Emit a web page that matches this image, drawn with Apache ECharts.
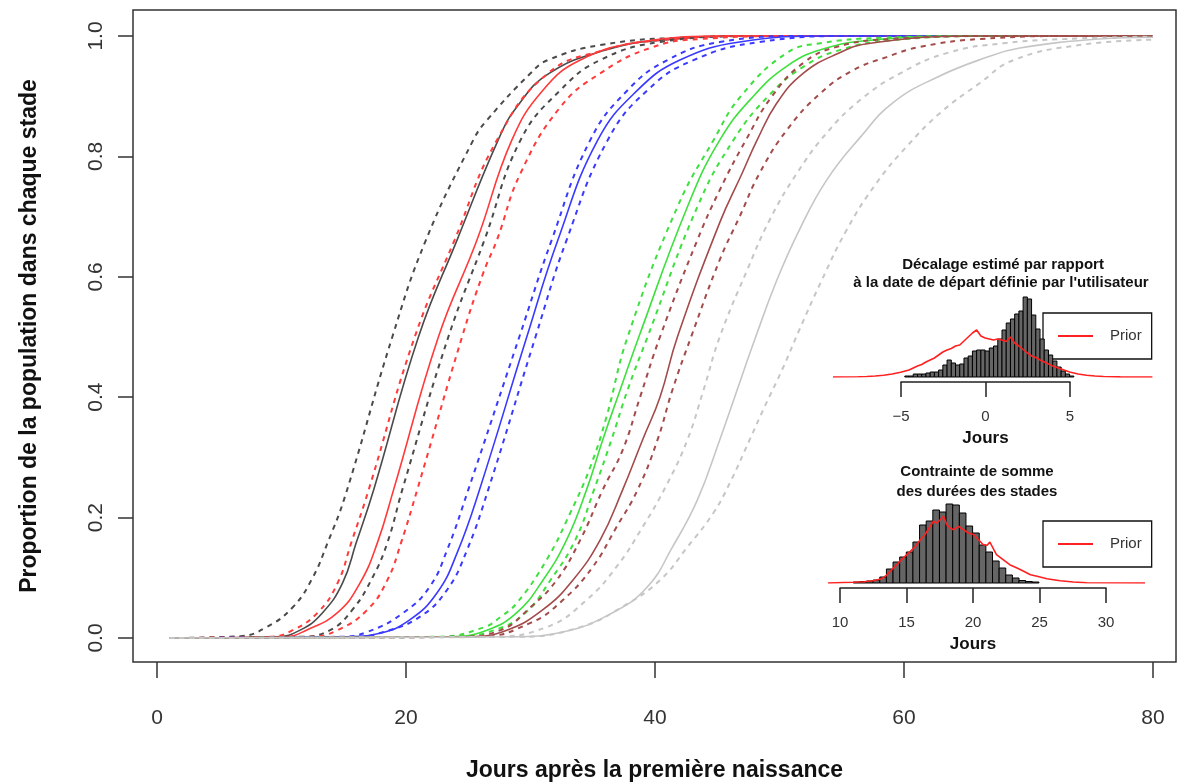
<!DOCTYPE html>
<html><head><meta charset="utf-8">
<script src="https://cdn.jsdelivr.net/npm/echarts@6/dist/echarts.min.js"></script>
<style>html,body{margin:0;padding:0;background:#fff}#c{width:1191px;height:783px}</style>
</head><body><div id="c"></div>
<script>
// ---- main chart data: [day, proportion] ----
const stage1Low  = [[1,0],[6.7,0.003],[8.8,0.018],[10.9,0.051],[12.5,0.10],[13.7,0.158],[15.1,0.235],[18.9,0.50],[21.6,0.661],[25.4,0.827],[26.5,0.86],[30.0,0.938],[31.4,0.96],[35.6,0.985],[42.0,0.997],[50,1],[80,1]];
const stage1Med  = [[1,0],[9.6,0.002],[11.5,0.013],[13.3,0.042],[14.9,0.091],[16.0,0.158],[17.4,0.246],[21.0,0.5],[24.1,0.661],[27.4,0.827],[28.9,0.882],[31.5,0.938],[36.1,0.977],[40.4,0.993],[48,1],[80,1]];
const stage1High = [[1,0],[11.5,0.002],[13.9,0.013],[15.7,0.047],[17.3,0.10],[18.5,0.158],[19.7,0.246],[23.4,0.5],[26.3,0.661],[29.2,0.827],[32.4,0.91],[35.6,0.96],[40.4,0.99],[48,1],[80,1]];
const stage2Low  = [[1,0],[9.1,0.002],[10.9,0.013],[12.9,0.042],[14.5,0.091],[15.6,0.158],[17.0,0.246],[20.7,0.5],[23.9,0.661],[27.3,0.827],[31.4,0.938],[36.0,0.977],[40.4,0.993],[48,1],[80,1]];
const stage2Med  = [[1,0],[10.3,0.002],[12.0,0.013],[14.5,0.042],[16.3,0.091],[17.7,0.158],[19.0,0.246],[22.6,0.5],[25.7,0.661],[28.5,0.827],[31.0,0.91],[34.0,0.96],[38.8,0.99],[46,1],[80,1]];
const stage2High = [[1,0],[12.3,0.002],[14.5,0.013],[16.9,0.047],[18.5,0.096],[19.6,0.158],[20.9,0.246],[24.5,0.5],[26.2,0.606],[27.3,0.661],[29.2,0.772],[32.4,0.882],[35.6,0.938],[39.6,0.98],[43.6,0.995],[52,1],[80,1]];
const stage3Low  = [[1,0],[14.7,0.002],[16.9,0.01],[19.8,0.042],[21.9,0.085],[23.3,0.146],[25.0,0.246],[29.1,0.5],[31.7,0.661],[34.8,0.827],[37.8,0.91],[41.0,0.96],[45.2,0.99],[52,1],[80,1]];
const stage3Med  = [[1,0],[15.1,0.002],[17.9,0.008],[20.3,0.03],[22.5,0.075],[24.1,0.141],[25.9,0.246],[29.7,0.5],[32.2,0.661],[35.4,0.827],[38.6,0.91],[42.0,0.96],[46.8,0.99],[54,1],[80,1]];
const stage3High = [[1,0],[15.9,0.002],[18.2,0.01],[21.1,0.035],[23.3,0.08],[24.9,0.146],[26.6,0.246],[30.4,0.5],[32.9,0.661],[36.2,0.827],[39.4,0.91],[43.1,0.96],[48.4,0.99],[56,1],[80,1]];
const stage4Low  = [[1,0],[22.7,0.002],[26.3,0.018],[27.6,0.035],[28.9,0.058],[31.3,0.13],[33.2,0.208],[34.8,0.284],[36.1,0.367],[37.8,0.5],[41.8,0.716],[44.7,0.827],[46.9,0.9],[50.6,0.972],[53.3,0.988],[58.1,0.997],[66,1],[80,1]];
const stage4Med  = [[1,0],[23.5,0.002],[26.5,0.013],[28.9,0.042],[31.0,0.096],[32.9,0.163],[34.5,0.246],[35.8,0.329],[37.2,0.412],[38.7,0.5],[42.6,0.716],[45.2,0.827],[47.9,0.9],[50.6,0.95],[53.3,0.977],[57.3,0.993],[66,1],[80,1]];
const stage4High = [[1,0],[23.9,0.002],[27.1,0.013],[29.6,0.042],[31.6,0.096],[33.6,0.163],[35.1,0.246],[36.5,0.329],[37.8,0.412],[39.4,0.5],[43.4,0.716],[46.3,0.827],[49.1,0.9],[52.0,0.95],[54.9,0.977],[58.9,0.993],[68,1],[80,1]];
const stage5Low  = [[1,0],[24.3,0.002],[27.6,0.013],[30.0,0.051],[32.1,0.096],[34.0,0.163],[35.8,0.246],[37.4,0.312],[38.8,0.4],[40.4,0.5],[43.4,0.661],[45.2,0.744],[47.3,0.827],[49.4,0.9],[51.9,0.955],[54.6,0.982],[58.9,0.995],[68,1],[80,1]];
const stage5Med  = [[1,0],[25.1,0.002],[28.1,0.013],[31.0,0.047],[33.4,0.096],[35.6,0.163],[37.4,0.246],[39.0,0.329],[40.4,0.4],[41.8,0.5],[45.2,0.69],[47.0,0.772],[48.2,0.827],[49.8,0.889],[51.9,0.938],[54.6,0.97],[57.3,0.988],[66,1],[80,1]];
const stage5High = [[1,0],[25.9,0.002],[30.0,0.025],[32.6,0.063],[35.0,0.118],[36.9,0.184],[38.6,0.246],[40.2,0.329],[41.4,0.412],[42.9,0.5],[45.2,0.628],[46.8,0.7],[48.4,0.772],[50.6,0.844],[53.3,0.905],[55.9,0.943],[58.6,0.965],[61.3,0.982],[66.1,0.995],[74,1],[80,1]];
const stage6Low  = [[1,0],[26.7,0.002],[31.3,0.018],[34.5,0.063],[36.9,0.118],[39.0,0.184],[41.0,0.257],[42.6,0.329],[43.9,0.412],[45.2,0.5],[47.4,0.611],[49.2,0.694],[51.4,0.772],[53.8,0.839],[56.5,0.894],[59.7,0.938],[63.5,0.972],[68.0,0.988],[74.1,0.996],[80,0.999]];
const stage6Med  = [[1,0],[28.4,0.002],[32.6,0.01],[36.6,0.042],[39.4,0.085],[41.4,0.151],[43.4,0.229],[45.2,0.329],[46.8,0.424],[48.0,0.495],[49.8,0.595],[51.6,0.678],[53.8,0.761],[56.5,0.832],[59.1,0.889],[62.7,0.932],[66.7,0.965],[69.3,0.98],[75.7,0.995],[80,0.998]];
const stage6High = [[1,0],[29.2,0.002],[34.0,0.018],[37.4,0.052],[40.4,0.096],[42.6,0.151],[44.7,0.208],[46.0,0.257],[47.6,0.329],[48.8,0.384],[50.2,0.445],[51.6,0.512],[53.3,0.59],[55.4,0.678],[57.8,0.756],[60.2,0.816],[62.9,0.872],[66.1,0.922],[68.8,0.96],[74.1,0.985],[80,0.994]];

const xTicks = [0, 20, 40, 60, 80];
const yTicks = [0, 0.2, 0.4, 0.6, 0.8, 1.0];

// ---- inset 1: offset histogram (Jours) ----
const offsetBinWidth = 0.25;
const offsetBinCenters = [-4.625,-4.375,-4.125,-3.875,-3.625,-3.375,-3.125,-2.875,-2.625,-2.375,-2.125,-1.875,-1.625,-1.375,-1.125,-0.875,-0.625,-0.375,-0.125,0.125,0.375,0.625,0.875,1.125,1.375,1.625,1.875,2.125,2.375,2.625,2.875,3.125,3.375,3.625,3.875,4.125,4.375,4.625,4.875,5.125];
const offsetCounts = [1,1,3,3,3,4,5,5,7,12,17,14,12,13,19,21,26,27,27,26,29,31,38,47,54,58,63,66,80,78,62,48,38,27,22,16,10,6,3,1];
const offsetPriorX = [-9,-7.5,-7,-6.5,-6,-5.5,-5,-4.5,-4,-3.75,-3.5,-3.25,-3,-2.75,-2.5,-2.25,-2,-1.75,-1.5,-1.25,-1,-0.75,-0.5,-0.25,0,0.25,0.5,0.75,1,1.25,1.5,1.75,2,2.25,2.5,2.75,3,3.25,3.5,3.75,4,4.5,5,5.5,6,6.5,7,8,9.9];
const offsetPriorY = [0,0.2,0.5,1,1.8,3,4.8,7,11,12.5,15,17,19,22,25,27,28.5,31,32,36,40,44,47,41,39,38,37,38,37,35.5,40,34,31,27.5,24,21,19.5,17,15,13,11,8,5,3,1.7,1,0.5,0.1,0];
const offsetTicks = [-5, 0, 5];

// ---- inset 2: sum of stage durations histogram (Jours) ----
const sumBinWidth = 0.5;
const sumBinCenters = [11.25,11.75,12.25,12.75,13.25,13.75,14.25,14.75,15.25,15.75,16.25,16.75,17.25,17.75,18.25,18.75,19.25,19.75,20.25,20.75,21.25,21.75,22.25,22.75,23.25,23.75,24.25,24.75];
const sumCounts = [1,1.5,2,3,6,14,21,26,31,41,58,62,73,71,79,78,70,57,50,38,31,22,15,8,5,2.5,1.5,1];
const sumPriorX = [9.1,11.0,11.8,12.5,13.15,13.5,13.9,14.3,14.5,14.9,15.3,15.7,16.05,16.4,16.8,17.05,17.3,17.55,17.8,18.05,18.3,18.56,18.94,19.3,19.7,20.1,20.45,20.8,21.1,21.3,21.6,21.8,22.3,22.8,23.35,23.85,24.36,24.86,25.6,26.6,27.6,28.6,33.0];
const sumPriorY = [0,0.7,1.3,2.3,4.3,7.7,13.3,18.3,21.7,26.7,31.7,36.7,43.3,48.3,56.7,61.7,60,63.3,66.7,58.3,55,53.3,56.7,53.3,50,48.3,43.3,38.3,37.7,41,33.3,28.3,23.3,18.3,15,11.7,8.3,6.7,4.3,2.3,1,0.3,0];
const sumTicks = [10, 15, 20, 25, 30];

const FONT = '"Liberation Sans", Arial, Helvetica, sans-serif';
const PRIOR_RED = '#ff2020';

const curveStyle = [
  {data: [stage1Low, stage1Med, stage1High], color: '#4a4a4a'},
  {data: [stage2Low, stage2Med, stage2High], color: '#ff3a3a'},
  {data: [stage3Low, stage3Med, stage3High], color: '#3a3aff'},
  {data: [stage4Low, stage4Med, stage4High], color: '#3ee03e'},
  {data: [stage5Low, stage5Med, stage5High], color: '#a34a4a'},
  {data: [stage6Low, stage6Med, stage6High], color: '#c6c6c6'}
];

const series = [];
curveStyle.forEach((s, i) => {
  s.data.forEach((d, j) => {
    const dashed = j !== 1;
    series.push({
      type: 'line', xAxisIndex: 0, yAxisIndex: 0, data: d,
      showSymbol: false, symbol: 'none', smooth: 0.45,
      lineStyle: {color: s.color, width: dashed ? 2 : 1.6, type: dashed ? [5, 5] : 'solid'},
      silent: true, z: 2 + i
    });
  });
});

function histSeries(centers, counts, w, xi, yi) {
  return {
    type: 'custom', xAxisIndex: xi, yAxisIndex: yi, z: 20, silent: true,
    data: centers.map((c, k) => [c, counts[k]]),
    renderItem: function (params, api) {
      const c = api.value(0), h = api.value(1);
      const p0 = api.coord([c - w / 2, 0]);
      const p1 = api.coord([c + w / 2, h]);
      return {type: 'rect', shape: {x: p0[0], y: p1[1], width: p1[0] - p0[0], height: p0[1] - p1[1]},
        style: {fill: '#656565', stroke: '#000', lineWidth: 1}};
    }
  };
}
const priorSeries = (xs, ys, xi, yi) => ({
  type: 'line', name: 'Prior', xAxisIndex: xi, yAxisIndex: yi, z: 30,
  data: xs.map((x, k) => [x, ys[k]]),
  showSymbol: false, symbol: 'none', itemStyle: {color: PRIOR_RED},
  lineStyle: {color: PRIOR_RED, width: 1.6}, silent: true
});
series.push(histSeries(offsetBinCenters, offsetCounts, offsetBinWidth, 1, 1));
series.push(priorSeries(offsetPriorX, offsetPriorY, 1, 1));
series.push(histSeries(sumBinCenters, sumCounts, sumBinWidth, 3, 3));
series.push(priorSeries(sumPriorX, sumPriorY, 3, 3));

const hidden = {show: false, splitLine: {show: false}};

const insetAxis = (gi, min, max, ticks, gap) => ({
  type: 'value', gridIndex: gi, min: min, max: max, interval: 5,
  axisLine: {show: true, onZero: false, lineStyle: {color: '#222', width: 1.5}},
  axisTick: {show: true, length: 15, lineStyle: {color: '#222', width: 1.5}},
  axisLabel: {show: true, fontSize: 15, color: '#333', fontFamily: FONT, margin: 27,
    formatter: v => (v < 0 ? '\u2212' + Math.abs(v) : String(v))},
  splitLine: {show: false},
  name: 'Jours', nameLocation: 'middle', nameGap: gap,
  nameTextStyle: {fontSize: 17, fontWeight: 'bold', color: '#111', fontFamily: FONT}
});

const legendBox = (top) => ({
  data: ['Prior'], left: 1043, top: top, icon: 'rect', itemWidth: 35, itemHeight: 2,
  itemStyle: {color: PRIOR_RED, borderWidth: 0},
  padding: [14, 10, 14, 15], borderColor: '#111', borderWidth: 1.3, selectedMode: false,
  textStyle: {fontSize: 15, color: '#333', fontFamily: FONT, padding: [0, 0, 0, 12], lineHeight: 18}
});

const G = {outerBoundsMode: 'none', containLabel: false};
const option = {
  backgroundColor: '#fff',
  animation: false,
  grid: [
    Object.assign({left: 133, top: 10, width: 1043, height: 652, show: true, borderColor: '#333', borderWidth: 1.5, backgroundColor: 'transparent'}, G),
    Object.assign({left: 833, top: 287, width: 320, height: 90}, G),
    Object.assign({left: 901, top: 381, width: 169, height: 1}, G),
    Object.assign({left: 828, top: 493, width: 317, height: 90}, G),
    Object.assign({left: 840, top: 587, width: 266, height: 1}, G)
  ],
  xAxis: [
    {type: 'value', gridIndex: 0, min: -1.928, max: 81.85,
      axisLine: {show: false, onZero: false},
      axisTick: {show: true, customValues: xTicks, length: 16, lineStyle: {color: '#333', width: 1.5}},
      axisLabel: {show: true, customValues: xTicks, fontSize: 21, color: '#333', fontFamily: FONT, margin: 46},
      splitLine: {show: false},
      name: 'Jours après la première naissance', nameLocation: 'middle', nameGap: 97,
      nameTextStyle: {fontSize: 23, fontWeight: 'bold', color: '#111', fontFamily: FONT}},
    Object.assign({type: 'value', gridIndex: 1, min: -9, max: 9.935}, hidden),
    insetAxis(2, -5, 5, offsetTicks, 48),
    Object.assign({type: 'value', gridIndex: 3, min: 9.095, max: 33.0}, hidden),
    insetAxis(4, 10, 30, sumTicks, 48)
  ],
  yAxis: [
    {type: 'value', gridIndex: 0, min: -0.0399, max: 1.0432,
      axisLine: {show: false, onZero: false},
      axisTick: {show: true, customValues: yTicks, length: 15, lineStyle: {color: '#333', width: 1.5}},
      axisLabel: {show: true, customValues: yTicks, rotate: 90, fontSize: 21, color: '#333', fontFamily: FONT, margin: 26,
        formatter: v => v.toFixed(1)},
      splitLine: {show: false},
      name: 'Proportion de la population dans chaque stade', nameLocation: 'middle', nameGap: 92,
      nameTextStyle: {fontSize: 23, fontWeight: 'bold', color: '#111', fontFamily: FONT}},
    Object.assign({type: 'value', gridIndex: 1, min: 0, max: 90}, hidden),
    Object.assign({type: 'value', gridIndex: 2, min: 0, max: 1}, hidden),
    Object.assign({type: 'value', gridIndex: 3, min: 0, max: 90}, hidden),
    Object.assign({type: 'value', gridIndex: 4, min: 0, max: 1}, hidden)
  ],
  legend: [legendBox(313), legendBox(521)],
  graphic: [
    {type: 'text', x: 1003, y: 265, z: 50, style: {text: 'Décalage estimé par rapport', font: 'bold 15px ' + FONT, fill: '#111', textAlign: 'center', textVerticalAlign: 'middle'}},
    {type: 'text', x: 1001, y: 283, z: 50, style: {text: "à la date de départ définie par l'utilisateur", font: 'bold 15px ' + FONT, fill: '#111', textAlign: 'center', textVerticalAlign: 'middle'}},
    {type: 'text', x: 977, y: 472, z: 50, style: {text: 'Contrainte de somme', font: 'bold 15px ' + FONT, fill: '#111', textAlign: 'center', textVerticalAlign: 'middle'}},
    {type: 'text', x: 977, y: 492, z: 50, style: {text: 'des durées des stades', font: 'bold 15px ' + FONT, fill: '#111', textAlign: 'center', textVerticalAlign: 'middle'}}
  ],
  series: series
};

const chart = echarts.init(document.getElementById('c'), null, {renderer: 'canvas'});
chart.setOption(option);
</script>
</body></html>
